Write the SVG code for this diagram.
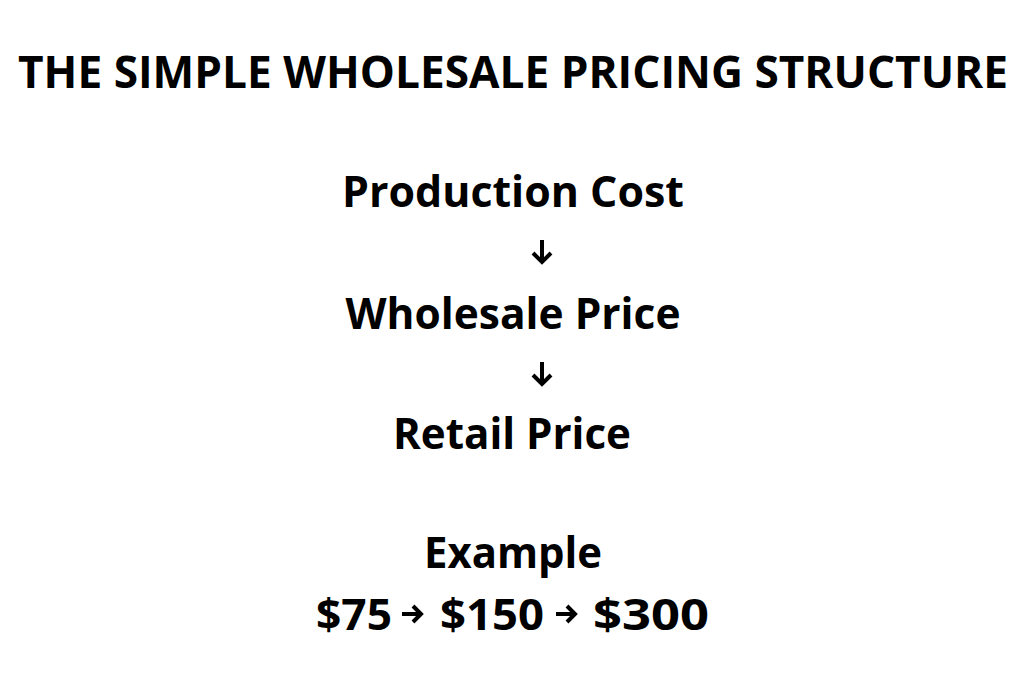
<svg xmlns="http://www.w3.org/2000/svg" width="1024" height="683" viewBox="0 0 1024 683">
<style>
.t{font-family:"Open Sans","Liberation Sans",sans-serif;font-weight:700;fill:#000;text-anchor:middle}
.s{font-family:"Open Sans","Liberation Sans",sans-serif;font-weight:700;fill:#000}
.ar{fill:none;stroke:#000;stroke-width:4;stroke-linecap:butt;stroke-linejoin:miter}
.ah{fill:none;stroke:#000;stroke-width:4;stroke-linecap:butt;stroke-linejoin:miter}
</style>
<rect width="1024" height="683" fill="#fff"/>
<g id="title"><text class="t" x="513" y="88" font-size="44" textLength="990" lengthAdjust="spacingAndGlyphs">THE SIMPLE WHOLESALE PRICING STRUCTURE</text></g>
<g id="production"><text class="t" x="513" y="207" font-size="43" textLength="342" lengthAdjust="spacingAndGlyphs">Production Cost</text></g>
<g id="wholesale"><text class="t" x="513" y="329" font-size="43" textLength="335" lengthAdjust="spacingAndGlyphs">Wholesale Price</text></g>
<g id="retail"><text class="t" x="512" y="449" font-size="43" textLength="238" lengthAdjust="spacingAndGlyphs">Retail Price</text></g>
<g id="connectors">
<path class="ar" d="M542 240 V262 M533 253 L542 262 L551 253"/>
<path class="ar" d="M542 362 V384 M533 375 L542 384 L551 375"/>
</g>
<g id="example">
<text class="t" x="513" y="568" font-size="43" textLength="178" lengthAdjust="spacingAndGlyphs">Example</text>
<text class="s" x="316" y="630" font-size="43" textLength="76" lengthAdjust="spacingAndGlyphs">$75</text>
<path class="ah" d="M402 614 H420 M413 606 L421 614 L413 622"/>
<text class="s" x="440" y="630" font-size="43" textLength="104" lengthAdjust="spacingAndGlyphs">$150</text>
<path class="ah" d="M556 614 H574 M567 606 L575 614 L567 622"/>
<text class="s" x="593" y="630" font-size="43" textLength="116" lengthAdjust="spacingAndGlyphs">$300</text>
</g>
</svg>
